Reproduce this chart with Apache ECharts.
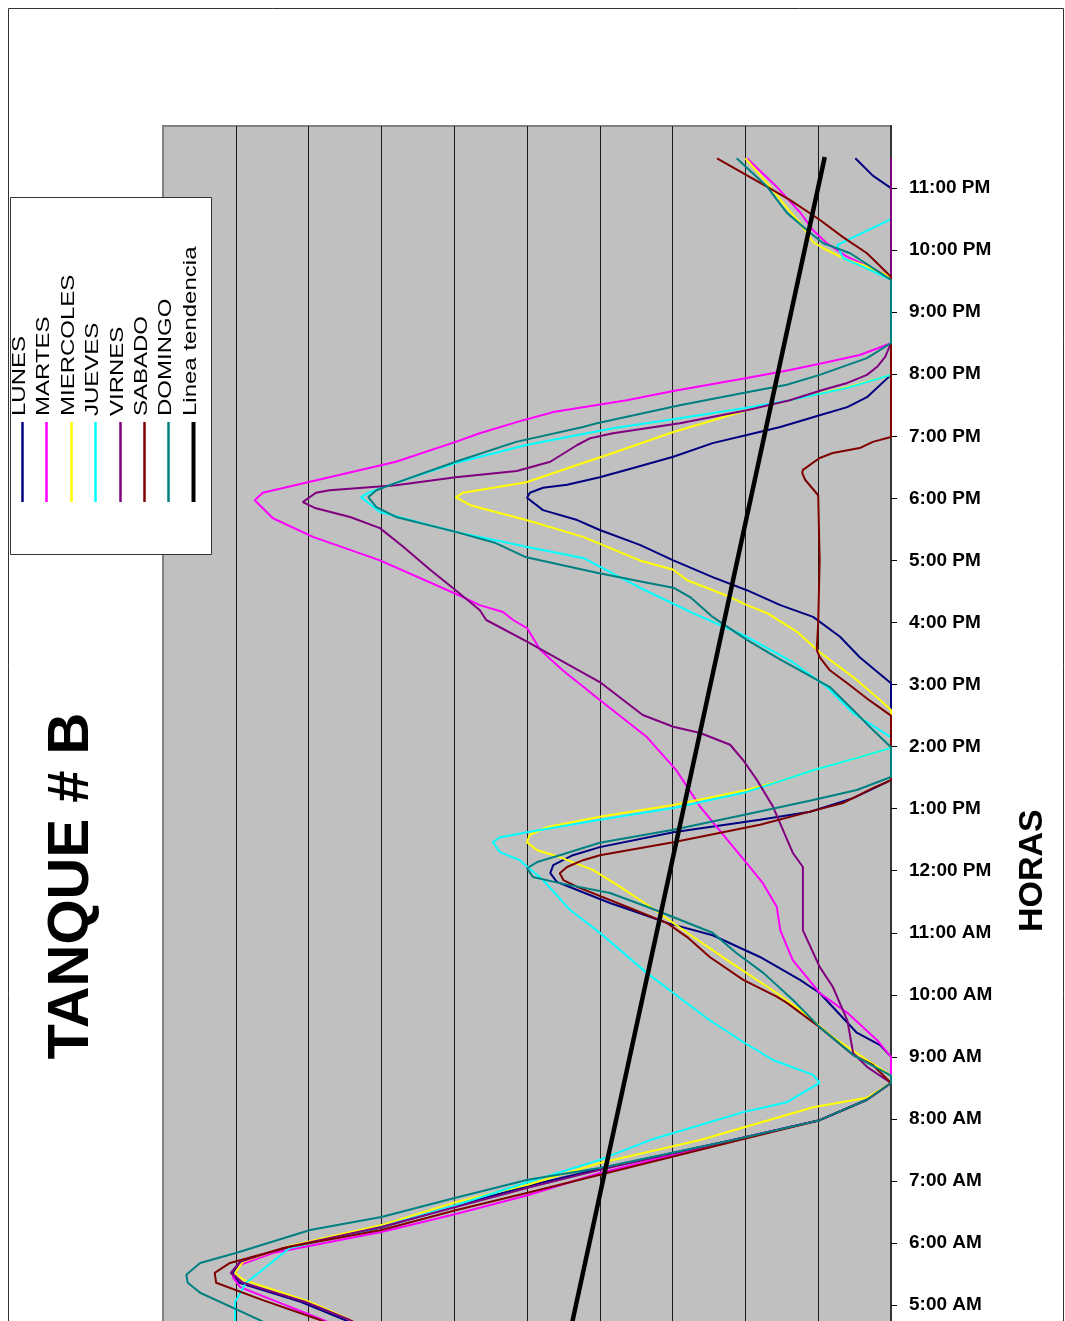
<!DOCTYPE html>
<html>
  <head>
    <meta charset="utf-8">
    <title>Tanque B</title>
    <style>
      html, body { margin: 0; padding: 0; background: #ffffff; }
    </style>
  </head>
  <body>
    <div id="main" style="width: 1065px;height:1321px;"></div>
  </body>
  <script type="text/javascript" src="https://cdn.jsdelivr.net/npm/echarts@6.0.0/dist/echarts.min.js"></script>
  <script type="text/javascript">
      var myChart = echarts.init(document.getElementById('main'));

      // etiquetas del eje de horas (0 = 12:00 AM)
      var horas = ['12:00 AM', '1:00 AM', '2:00 AM', '3:00 AM', '4:00 AM', '5:00 AM', '6:00 AM',
                   '7:00 AM', '8:00 AM', '9:00 AM', '10:00 AM', '11:00 AM', '12:00 PM',
                   '1:00 PM', '2:00 PM', '3:00 PM', '4:00 PM', '5:00 PM', '6:00 PM',
                   '7:00 PM', '8:00 PM', '9:00 PM', '10:00 PM', '11:00 PM'];

      var nombres = ['LUNES', 'MARTES', 'MIERCOLES', 'JUEVES', 'VIRNES', 'SABADO', 'DOMINGO', 'Linea tendencia'];

      // [hora, nivel]
      var lunes = [[4.6,72],[4.76,75],[5.05,81],[5.36,89.5],[5.5,90.5],[5.7,89.2],[5.93,83],[6.25,70],[6.6,59.8],[6.92,49.9],[7.2,40],[7.66,21.7],[7.98,9.8],[8.31,3.3],[8.58,0],[9.0,0],[9.19,1.5],[9.39,4.7],[9.68,7],[10.03,9.8],[10.24,12.5],[10.61,18],[10.96,24.5],[11.16,30.8],[11.33,34.9],[11.48,38.6],[11.69,43.1],[11.82,45.9],[11.96,46.8],[12.09,46.4],[12.25,43.7],[12.38,40],[12.62,29.9],[12.82,18],[12.95,11.1],[13.17,5.2],[13.46,0],[15.02,0],[15.44,4.3],[15.77,7],[16.09,10.7],[16.28,15.2],[16.52,19.8],[16.73,24.5],[17.0,29.9],[17.25,34.5],[17.49,40],[17.65,43.1],[17.81,47.8],[18.01,50],[18.09,49.6],[18.17,47.8],[18.22,44.5],[18.34,40],[18.49,35.4],[18.67,29.9],[18.89,24.5],[19.02,19.8],[19.15,15.2],[19.34,9.8],[19.47,6],[19.63,3.3],[19.99,0],[23.0,0],[23.2,2.5],[23.48,4.9]];
      var martes = [[4.6,75],[4.76,78],[5.08,84.9],[5.29,89.4],[5.45,90.4],[5.65,89.4],[5.84,84.9],[6.18,70],[6.47,59.8],[6.77,49.9],[7.13,40],[7.66,21.7],[7.98,9.8],[8.31,3.3],[8.58,0],[9.0,0],[9.27,1.9],[9.71,6],[10.03,9.8],[10.56,13.5],[11.04,15.2],[11.42,15.7],[11.8,17.6],[12.12,19.8],[12.5,22.5],[13.03,26.2],[13.46,28.6],[13.62,29.5],[14.15,33.5],[14.75,40],[15.23,45.1],[15.56,48.2],[15.91,50],[16.04,51.9],[16.17,53.3],[16.28,56.5],[16.41,58.8],[17.0,70.2],[17.38,79.4],[17.68,84.9],[17.97,87.4],[18.09,86.3],[18.25,80.4],[18.59,68],[18.91,59.8],[19.05,56.5],[19.26,50.5],[19.39,46.4],[19.58,36.3],[19.73,29.9],[19.94,19.8],[20.07,13.9],[20.18,9.3],[20.31,4.3],[20.5,0],[21.57,0],[21.89,6],[22.11,8.8],[22.32,10.7],[22.61,12.5],[23.02,15.7],[23.48,19.8]];
      var miercoles = [[4.6,71.5],[4.76,74.2],[5.05,79.8],[5.41,89],[5.52,90.1],[5.7,89],[5.94,83.1],[6.29,70],[6.66,59.8],[6.94,49.9],[7.29,40],[7.66,26.2],[8.19,10.7],[8.34,3.3],[8.58,0],[8.7,0],[8.95,3.3],[9.32,8],[9.76,12.5],[10.03,15.7],[10.56,22.5],[11.0,28],[11.42,33.1],[11.74,37.2],[12.01,40.9],[12.22,45.5],[12.33,48.6],[12.46,50],[12.58,49.6],[12.7,47.3],[12.87,40],[13.06,29.9],[13.3,19.8],[13.46,14.8],[13.62,10.7],[13.83,4.3],[13.98,0],[14.59,0],[14.75,1.5],[15.12,5.2],[15.52,9.8],[15.85,12.9],[16.15,17],[16.28,19.8],[16.41,22.1],[16.68,28],[16.85,29.9],[17.0,34.5],[17.38,42.3],[17.65,50.1],[17.89,57.8],[18.02,59.8],[18.09,58.8],[18.26,50.1],[18.57,42.3],[18.73,38.2],[19.07,29.9],[19.42,19.8],[19.58,13.9],[19.79,6],[19.99,0],[21.57,0],[21.76,3.8],[21.84,6],[22.03,9.3],[22.13,10.7],[22.44,12.5],[22.68,14.3],[23.08,17],[23.48,20]];
      var jueves = [[4.6,90.1],[5.05,90.1],[5.36,88.6],[5.45,87.6],[5.92,82.6],[6.26,70],[6.61,59.8],[6.98,49.9],[7.34,40],[7.66,33.1],[8.11,20.3],[8.27,14.3],[8.58,9.8],[8.71,10.7],[8.95,16.2],[9.24,20.3],[9.59,24.9],[10.03,29.9],[10.35,33.5],[11.0,40],[11.37,44.1],[11.85,47.8],[12.17,51],[12.3,53.7],[12.46,54.7],[12.54,53.7],[12.62,50],[12.82,40],[13.01,29.9],[13.27,19.8],[13.46,14.8],[13.62,10.7],[13.83,4.3],[13.98,0],[14.15,0],[14.54,5.2],[14.96,8.8],[15.36,13.5],[15.77,19.8],[16.15,27.2],[16.56,34.5],[17.04,42.3],[17.22,50.1],[17.46,59.8],[17.78,70.2],[18.02,72.8],[18.1,71.6],[18.25,68],[18.57,59.8],[18.86,50.1],[19.13,38.2],[19.29,29],[19.46,19.8],[19.58,13.9],[19.78,6],[19.99,0],[21.52,0],[21.73,3.8],[21.87,6.6],[22.08,7.4],[22.5,0]];
      var virnes = [[4.6,71.5],[4.76,74.3],[5.05,80.4],[5.36,89],[5.52,90.7],[5.7,89.4],[5.92,83.5],[6.26,70],[6.58,59.8],[6.89,49.9],[7.18,40],[7.66,21.7],[7.98,9.8],[8.31,3.3],[8.58,0],[8.84,3.3],[9.06,5.2],[9.59,6],[10.13,8],[10.45,9.8],[11.04,12.1],[12.06,12.1],[12.29,13.5],[13.03,16.2],[13.46,18.4],[13.78,20.3],[14.03,22.1],[14.22,26.2],[14.32,29.9],[14.51,34.1],[15.04,40],[15.69,50],[16.04,55.6],[16.2,56.5],[16.52,59.8],[16.85,63.3],[17.22,67],[17.52,70.2],[17.7,74.3],[17.84,79],[17.94,80.8],[18.09,79],[18.13,77.1],[18.21,68],[18.34,59.8],[18.44,51.4],[18.59,46.8],[18.86,43.1],[18.97,41.3],[19.05,38.2],[19.21,29],[19.42,19.8],[19.58,13.9],[19.75,9.3],[19.86,6],[19.99,3.3],[20.12,1.9],[20.28,0.8],[20.5,0],[23.48,0]];
      var sabado = [[4.6,75.5],[4.76,78.4],[5.08,86.3],[5.36,92.7],[5.52,92.9],[5.68,90.8],[5.94,82.6],[6.21,70],[6.53,59.8],[6.81,49.9],[7.1,40],[7.66,20.8],[7.98,9.8],[8.31,3.3],[8.58,0],[8.87,2.5],[9.03,5.2],[9.48,9.8],[9.87,14.3],[9.97,15.7],[10.24,20.3],[10.61,24.9],[10.93,28],[11.16,30.8],[11.42,36.3],[11.74,43.1],[11.85,45],[11.96,45.5],[12.06,44.5],[12.17,42.3],[12.25,40],[12.46,29.9],[12.74,18],[12.98,10.2],[13.09,6.6],[13.33,2.5],[13.46,0],[14.5,0],[14.74,2.9],[15.02,6],[15.23,8.4],[15.44,9.8],[15.56,10.2],[15.99,10],[17.0,9.8],[18.05,10],[18.3,11.8],[18.41,12.2],[18.46,12.1],[18.65,9.8],[18.73,8],[18.81,4.3],[18.91,2.5],[18.99,0],[21.57,0],[21.95,3.3],[22.21,6.6],[22.49,9.8],[22.81,13.9],[23.02,17],[23.48,23.9]];
      var domingo = [[4.6,84.2],[4.76,86.7],[5.2,94.9],[5.36,96.6],[5.49,96.8],[5.68,94.9],[5.84,90],[6.21,79.8],[6.42,70],[6.73,59.8],[7.02,49.9],[7.21,40],[7.66,21.7],[7.98,9.8],[8.31,3.3],[8.58,0],[8.7,0],[9.03,5.2],[9.48,9.8],[9.92,13.5],[10.35,17.5],[10.67,21.2],[11.0,24.5],[11.42,33.5],[11.64,38.6],[11.8,45.5],[11.9,49.2],[12.04,50],[12.14,48.6],[12.25,45.5],[12.45,40],[12.66,29.9],[12.93,19],[13.14,10.7],[13.3,4.7],[13.51,0],[13.99,0],[14.27,2.5],[14.59,5.2],[14.96,8.4],[15.23,12.5],[15.4,15.2],[15.72,19.8],[16.09,24.5],[16.41,27.6],[16.56,29.9],[16.64,33.5],[16.8,40.4],[17.05,50.1],[17.28,54.3],[17.46,59.8],[17.7,68],[17.86,70.7],[18.02,71.8],[18.13,70.7],[18.25,68],[18.59,59.8],[18.91,51.5],[19.15,42.3],[19.21,40.4],[19.5,29],[19.71,19.8],[19.83,14.3],[19.99,9.8],[20.26,3.3],[20.5,0],[21.52,0],[21.95,5.6],[22.11,9.3],[22.28,11.1],[22.6,14.3],[23.02,17],[23.48,21.2]];
      var tendencia = [[4.5,44.2],[23.5,9.1]];

      var dias = [lunes, martes, miercoles, jueves, virnes, sabado, domingo, tendencia];
      var colores = ['#000080', '#ff00ff', '#ffff00', '#00ffff', '#800080', '#800000', '#008080', '#000000'];
      var fuente = '"Liberation Sans", Arial, sans-serif';

      var series = dias.map(function (d, i) {
          return {
              name: nombres[i],
              type: 'line',
              showSymbol: false,
              symbol: 'none',
              animation: false,
              data: d.map(function (p) { return [p[1], p[0]]; }),
              lineStyle: { color: colores[i], width: i === 7 ? 4.5 : 2 },
              itemStyle: { color: colores[i] }
          };
      });

      // leyenda girada (dibujada a mano)
      var leyenda = [{
          type: 'rect',
          shape: { x: 10.5, y: 197.5, width: 201, height: 357 },
          style: { fill: '#ffffff', stroke: '#333333', lineWidth: 1 },
          z: 100
      }];
      nombres.forEach(function (n, i) {
          var lx = Math.round(22 + i * 24.4) + 0.5;
          leyenda.push({
              type: 'line',
              shape: { x1: lx, y1: 422, x2: lx, y2: 502 },
              style: { stroke: colores[i], lineWidth: i === 7 ? 4 : 2.5 },
              z: 101
          });
          leyenda.push({
              type: 'text',
              x: lx - 2, y: 416,
              rotation: Math.PI / 2,
              scaleY: 0.75,
              style: { text: n, font: '24px ' + fuente, fill: '#000', textAlign: 'left', textVerticalAlign: 'middle' },
              z: 101
          });
      });

      myChart.setOption({
          animation: false,
          backgroundColor: '#ffffff',
          graphic: [{
              type: 'rect',
              shape: { x: 8.5, y: 8.5, width: 1055, height: 1400 },
              style: { fill: 'none', stroke: '#333333', lineWidth: 1 },
              z: 0
          }, {
              type: 'text',
              x: 72, y: 886,
              rotation: Math.PI / 2,
              style: { text: 'TANQUE # B', font: 'bold 58px ' + fuente, fill: '#000', textAlign: 'center', textVerticalAlign: 'middle' },
              z: 101
          }].concat(leyenda),
          grid: {
              left: 163, top: 126, width: 728, height: 24 * 62.06,
              show: true, backgroundColor: '#c0c0c0', borderColor: '#808080', borderWidth: 2,
              containLabel: false, outerBoundsMode: 'none'
          },
          xAxis: {
              type: 'value', min: 0, max: 100, interval: 10, inverse: true,
              axisLine: { show: false }, axisTick: { show: false }, axisLabel: { show: false },
              splitLine: { show: true, showMinLine: false, showMaxLine: false, lineStyle: { color: '#1a1a1a', width: 1 } }
          },
          yAxis: {
              type: 'value', position: 'right', min: 0, max: 24, interval: 1,
              name: 'HORAS', nameLocation: 'middle', nameRotate: 90, nameGap: 125,
              nameTextStyle: { fontSize: 34, fontWeight: 'bold', color: '#000', fontFamily: fuente },
              axisLine: { show: true, lineStyle: { color: '#333333', width: 2 } },
              axisTick: { show: true, length: 6, lineStyle: { color: '#000' } },
              axisLabel: {
                  color: '#000', fontSize: 19, fontWeight: 'bold', fontFamily: fuente, margin: 18, showMaxLabel: false,
                  formatter: function (v) { return horas[v] || ''; }
              },
              splitLine: { show: false }
          },
          series: series
      });
  </script>
</html>
